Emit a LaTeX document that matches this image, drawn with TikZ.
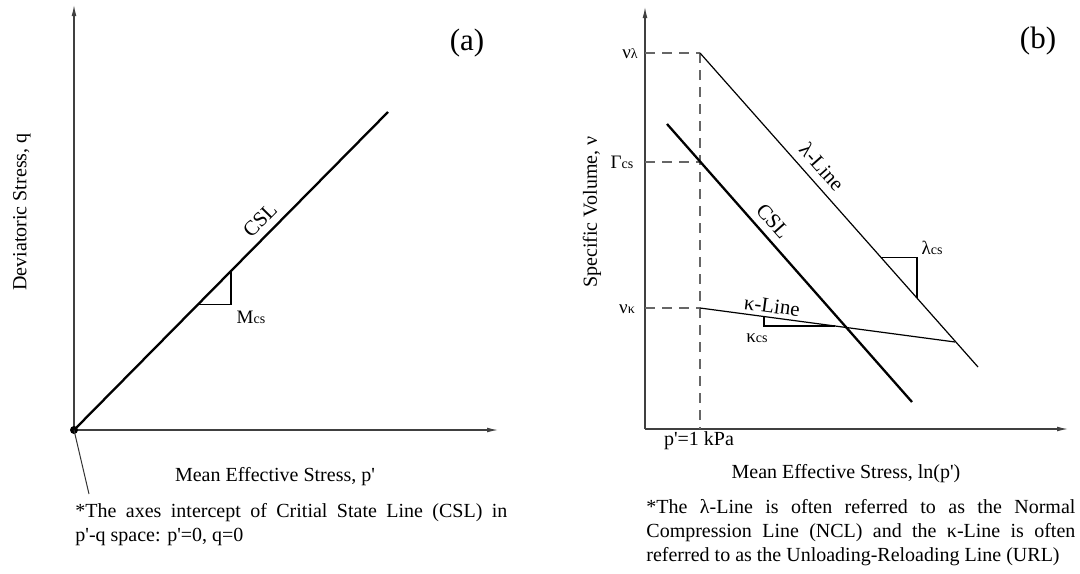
\documentclass[tikz,border=0pt]{standalone}
\usepackage{fontspec}
\setmainfont{Liberation Serif}
\usetikzlibrary{arrows.meta}
\newcommand\sbs[1]{{\fontsize{7}{7}\selectfont #1}}
\newcommand\pq{\textquotesingle}
\begin{document}
\begin{tikzpicture}[x=0.5pt,y=-0.5pt,
  axis/.style={draw=black!75, line width=0.55pt, -{Latex[length=5.5pt,width=2.4pt]}},
  thinline/.style={draw=black, line width=0.6pt},
  thickline/.style={draw=black, line width=1.15pt},
  guide/.style={draw=black!60, line width=0.55pt, dash pattern=on 5pt off 3.5pt},
  slopebox/.style={draw=black, line width=0.85pt},
  lbl/.style={inner sep=0pt, font=\fontsize{10}{12}\selectfont},
  linelbl/.style={inner sep=0pt, font=\fontsize{10.5}{12}\selectfont},
  sym/.style={inner sep=0pt, font=\fontsize{9.5}{11}\selectfont},
  panel/.style={inner sep=0pt, font=\fontsize{15.5}{18}\selectfont},
  note/.style={inner sep=0pt, anchor=base west, align=justify, font=\fontsize{10}{12}\selectfont}
]
\useasboundingbox (0,0) rectangle (1080,573);

%% ---------------- Panel (a) ----------------
\coordinate (Oa) at (74,430);
\coordinate (Ya) at (74,5);
\coordinate (Xa) at (498,430);
\coordinate (Ea) at (388,112);
\coordinate (ta1) at (198,304.4);
\coordinate (ta2) at (231,304.4);
\coordinate (ta3) at (231,270.8);
\coordinate (lead) at (89,494);

\draw[axis] (Oa) -- (Ya);
\draw[axis] (Oa) -- (Xa);
\draw[thickline] (Oa) -- (Ea);
\draw[slopebox] (ta1) -- (ta2) -- (ta3);
\node[circle, fill=black, inner sep=0pt, minimum size=4pt] (dot) at (Oa) {};
\draw[draw=black!80, line width=0.5pt] (dot.center) -- (lead);

\node[linelbl, rotate=45.4] (csla) at (260,220) {CSL};
\node[sym] (mcs) at (251,317) {M\sbs{cs}};
\node[panel] (pa) at (467,43) {(a)};
\node[lbl, rotate=90] (ylab) at (22,212) {Deviatoric Stress, q};
\node[lbl] (xlab) at (275,477) {Mean Effective Stress, p\pq};
\node[note, text width=216pt] (fna) at (75,517)
  {*The axes intercept of Critial State Line (CSL) in\linebreak p\pq-q space: p\pq=0, q=0};

%% ---------------- Panel (b) ----------------
\coordinate (Ob) at (645,429);
\coordinate (Yb) at (645,7);
\coordinate (Xb) at (1068,429);
\coordinate (Ll) at (645,53);
\coordinate (Lg) at (645,162);
\coordinate (Lk) at (645,308);
\coordinate (Pl) at (700,53);
\coordinate (Pg) at (700,162);
\coordinate (Pk) at (700,308);
\coordinate (P0) at (700,429);
\coordinate (Le) at (978,367);
\coordinate (Cs) at (667,124);
\coordinate (Ce) at (912,402);
\coordinate (Ke) at (955,342);
\coordinate (tl1) at (881,257.4);
\coordinate (tl2) at (917,257.4);
\coordinate (tl3) at (917,298.1);
\coordinate (tk1) at (764,316.5);
\coordinate (tk2) at (764,326);
\coordinate (tk3) at (835,326);

\draw[axis] (Ob) -- (Yb);
\draw[axis] (Ob) -- (Xb);
\draw[guide] (Ll) -- (Pl);
\draw[guide] (Lg) -- (Pg);
\draw[guide] (Lk) -- (Pk);
\draw[guide] (Pl) -- (P0);
\draw[thinline] (Pl) -- (Le);
\draw[thickline] (Cs) -- (Ce);
\draw[thinline] (Pk) -- (Ke);
\draw[slopebox] (tl1) -- (tl2) -- (tl3);
\draw[slopebox] (tk1) -- (tk2) -- (tk3);

\node[sym] (nul) at (630,54) {ν\sbs{λ}};
\node[sym] (gcs) at (622,162) {Γ\sbs{cs}};
\node[sym] (nuk) at (627,309) {ν\sbs{κ}};
\node[sym] (lcs) at (932,248) {λ\sbs{cs}};
\node[sym] (kcs) at (757,338) {κ\sbs{cs}};
\node[linelbl, rotate=-48.5] (llab) at (822,167) {λ-Line};
\node[linelbl, rotate=-48.5] (cslb) at (773,221) {CSL};
\node[linelbl, rotate=-7.6] (klab) at (772,306) {κ-Line};
\node[lbl] (p1) at (699,441) {p\pq=1 kPa};
\node[panel] (pb) at (1038,41) {(b)};
\node[lbl, rotate=90] (ylabb) at (592,212) {Specific Volume, ν};
\node[lbl] (xlabb) at (846,474) {Mean Effective Stress, ln(p\pq)};
\node[note, text width=214.5pt] (fnb) at (646,513)
  {*The λ-Line is often referred to as the Normal\linebreak Compression Line (NCL) and the κ-Line is often\linebreak referred to as the Unloading-Reloading Line (URL)};
\end{tikzpicture}
\end{document}
